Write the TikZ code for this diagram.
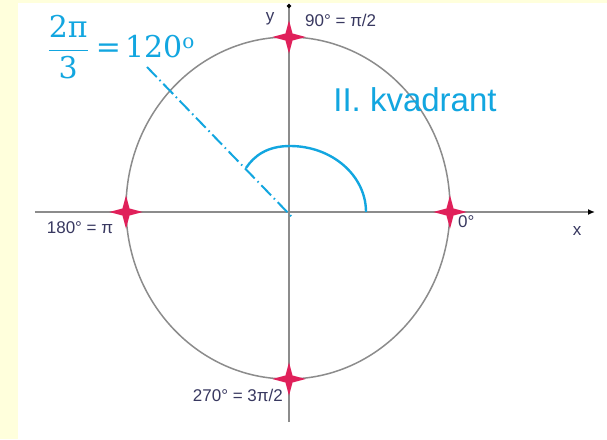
\RequirePackage{fix-cm}
\documentclass[tikz,border=0pt]{standalone}
\usepackage{fontspec}
\setsansfont{Liberation Sans}
\newfontfamily\fracfont{DejaVu Serif}
\usetikzlibrary{arrows.meta, calc, shapes.geometric}
\definecolor{cFondo}{HTML}{FFFFDC}
\definecolor{cEje}{HTML}{8C8C8C}
\definecolor{cAzul}{HTML}{12A6E0}
\definecolor{cRojo}{HTML}{E0205A}
\definecolor{cTexto}{HTML}{383860}

\begin{document}
\begin{tikzpicture}[
    x=1pt, y=1pt, font=\sffamily,
    eje/.style={draw=cEje, line width=1.5pt},
    marca/.style={star, star points=4, star point ratio=0.3,
                  shape border rotate=45, fill=cRojo, inner sep=0pt,
                  minimum size=10pt},
    etq/.style={font=\sffamily\fontsize{17}{19}\selectfont, text=cTexto,
                inner sep=1pt},
    azul/.style={cAzul, line width=2.4pt},
]

% ===========================================================================
% Fondo
% ===========================================================================
\useasboundingbox (-289,-227) rectangle (318,212);
\fill[cFondo] (-289,-227) rectangle (318,212);
\fill[white] (-271,-227) rectangle (318,209);

% ----- ejes -----
\coordinate (O) at (0,0);
\draw[eje, -{Latex[length=7pt, width=6pt, color=black]}] (-254,0) -- (306,0);
\draw[eje, -{Circle[length=4pt, color=black]}] (0,-210) -- (0,208);

% ----- circunferencia -----
\draw[eje] (-1,4) ellipse [x radius=162, y radius=171];

% ----- puntos marcados -----
\node[marca] (p90)  at (0,175)   {};
\node[marca] (p180) at (-163,0)  {};
\node[marca] (p0)   at (161,0)   {};
\node[marca] (p270) at (0,-167)  {};

% ----- rótulos de los ejes -----
\node[etq] (ly) at (-19,193) {y};
\node[etq, anchor=west] (l90)  at (15,192)   {90° = π/2};
\node[etq] (l180) at (-209,-16)  {180° = π};
\node[etq, anchor=west] (l0)   at (168,-10)  {0°};
\node[etq] (lx) at (288,-19) {x};
\node[etq, anchor=east] (l270) at (-5,-183)  {270° = 3π/2};

% ===========================================================================
% Ángulo de 120 grados
% ===========================================================================
\coordinate (fin) at (-142,145);
\coordinate (corte) at (-43,44);
\draw[azul] (77,0) arc[start angle=0, end angle=90, x radius=76, y radius=66]
      .. controls (-22,66) and (-35,56) .. (corte);

\draw[cAzul, line width=2pt, dash pattern=on 14pt off 4pt on 1.5pt off 4pt]
      (fin) -- ($(O)+(3,-5)$);

\node[text=cAzul, font=\fracfont\fontsize{30}{36}\selectfont] (ang) at (-168,165)
      {$\displaystyle\frac{\hbox{2π}}{\hbox{3}}$\hspace{7pt}=\hspace{4pt}120\raisebox{0.32em}{\fontsize{20}{22}\selectfont o}};

\node[text=cAzul, font=\sffamily\fontsize{33}{38}\selectfont] (cuad) at (126,112)
      {II. kvadrant};

\end{tikzpicture}
\end{document}
